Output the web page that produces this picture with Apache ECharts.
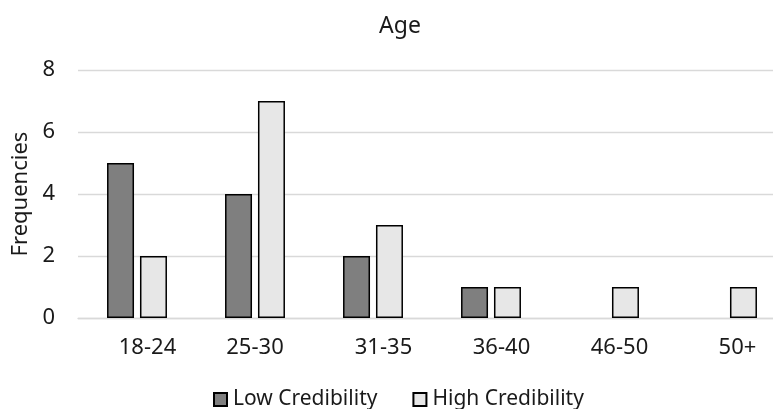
<!DOCTYPE html>
<html>
<head>
<meta charset="utf-8">
<script src="https://cdn.jsdelivr.net/npm/echarts@6/dist/echarts.min.js"></script>
<style>
  html, body { margin: 0; padding: 0; background: #fff; }
  #chart { width: 773px; height: 409px; }
</style>
</head>
<body>
<div id="chart"></div>
<script>
// Age brackets and respondent counts per credibility group
const categories = ['18-24', '25-30', '31-35', '36-40', '46-50', '50+'];
const lowCredibility = [5, 4, 2, 1, 0, 0];
const highCredibility = [2, 7, 3, 1, 1, 1];
const yTicks = [0, 2, 4, 6, 8];

const FONT = '"Noto Sans", "Open Sans", sans-serif';
const TEXT = '#1a1a1a';
const FS = 22;

// Empty counts are left out rather than drawn as flat outlined bars
const asBars = arr => arr.map(v => (v === 0 ? '-' : v));

// Most tick labels sit slightly right of their bar pair
const shiftedLabel = i => i !== 1;

const chart = echarts.init(document.getElementById('chart'), null, { renderer: 'canvas' });

chart.setOption({
  animation: false,
  backgroundColor: '#ffffff',
  textStyle: { fontFamily: FONT },
  title: {
    text: 'Age',
    left: 395,
    top: 10,
    textAlign: 'center',
    textStyle: { fontFamily: FONT, fontSize: 23, fontWeight: 'normal', color: TEXT }
  },
  legend: {
    data: ['Low Credibility', 'High Credibility'],
    left: 208,
    top: 384,
    icon: 'rect',
    itemWidth: 13,
    itemHeight: 13,
    itemGap: 35,
    textStyle: { fontFamily: FONT, fontSize: 21, color: TEXT, padding: [0, 0, 0, 1] }
  },
  // plot band is wider than the canvas; the last column runs to the right edge
  grid: { left: 78, width: 708, top: 70, bottom: 91, outerBoundsMode: 'none' },
  xAxis: {
    type: 'category',
    data: categories,
    axisLine: { show: true, lineStyle: { color: '#d9d9d9', width: 1.3 } },
    axisTick: { show: false },
    axisLabel: {
      margin: 19,
      interval: 0,
      fontFamily: FONT,
      fontSize: FS,
      color: TEXT,
      formatter: (v, i) => (shiftedLabel(i) ? '{s|' + v + '}' : '{c|' + v + '}'),
      rich: {
        s: { fontFamily: FONT, fontSize: FS, color: TEXT, padding: [0, 0, 0, 21] },
        c: { fontFamily: FONT, fontSize: FS, color: TEXT }
      }
    }
  },
  yAxis: {
    type: 'value',
    min: yTicks[0],
    max: yTicks[yTicks.length - 1],
    interval: 2,
    name: 'Frequencies',
    nameLocation: 'middle',
    nameRotate: 90,
    nameGap: 44,
    nameTextStyle: { fontFamily: FONT, fontSize: FS, color: TEXT },
    axisLine: { show: false },
    axisTick: { show: false },
    axisLabel: { margin: 23, fontFamily: FONT, fontSize: FS, color: TEXT },
    splitLine: { lineStyle: { color: '#d9d9d9', width: 1.3 } }
  },
  series: [
    {
      name: 'Low Credibility',
      type: 'bar',
      data: asBars(lowCredibility),
      barWidth: 27,
      barGap: '22%',
      itemStyle: { color: '#7f7f7f', borderColor: '#000000', borderWidth: 1.5 }
    },
    {
      name: 'High Credibility',
      type: 'bar',
      data: asBars(highCredibility),
      barWidth: 27,
      barGap: '22%',
      itemStyle: { color: '#e7e7e7', borderColor: '#000000', borderWidth: 1.5 }
    }
  ]
});
</script>
</body>
</html>
